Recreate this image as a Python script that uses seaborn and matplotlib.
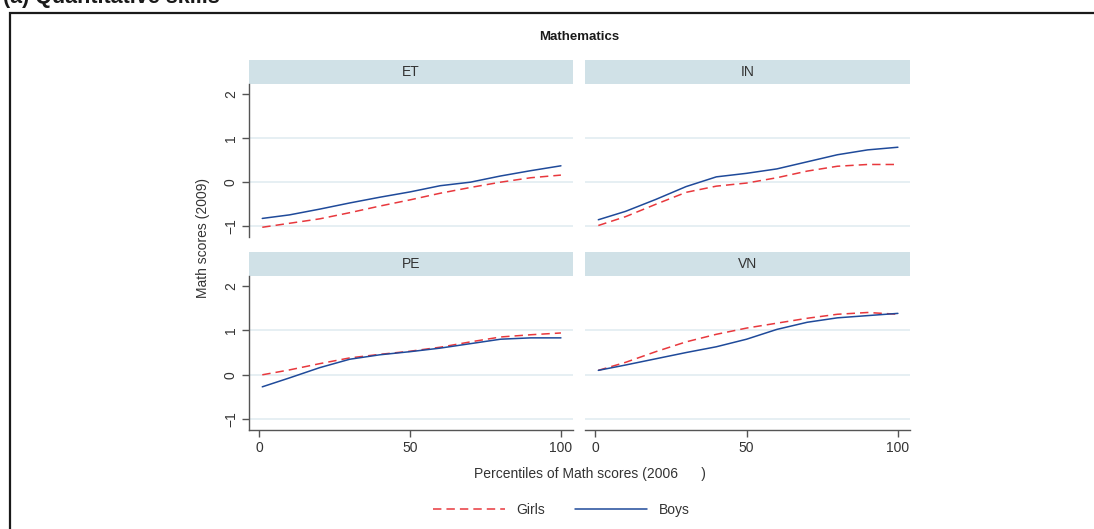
import numpy as np
import pandas as pd
import seaborn as sns
import matplotlib.pyplot as plt
from matplotlib.patches import Rectangle
from matplotlib.lines import Line2D

# Percentile grid of 2006 math scores
percentiles = [1, 10, 20, 30, 40, 50, 60, 70, 80, 90, 100]

countries = ["ET", "IN", "PE", "VN"]

# Smoothed 2009 math scores by percentile of the 2006 score
et_girls = [-1.02, -0.93, -0.83, -0.69, -0.54, -0.40, -0.25, -0.12, 0.00, 0.10, 0.16]
et_boys = [-0.82, -0.74, -0.61, -0.47, -0.34, -0.22, -0.08, 0.00, 0.14, 0.26, 0.37]
in_girls = [-0.98, -0.78, -0.50, -0.23, -0.09, -0.02, 0.10, 0.25, 0.36, 0.40, 0.40]
in_boys = [-0.85, -0.66, -0.39, -0.10, 0.12, 0.20, 0.30, 0.46, 0.62, 0.73, 0.79]
pe_girls = [0.00, 0.11, 0.25, 0.38, 0.46, 0.53, 0.62, 0.74, 0.85, 0.90, 0.94]
pe_boys = [-0.27, -0.07, 0.16, 0.35, 0.45, 0.52, 0.60, 0.70, 0.80, 0.83, 0.83]
vn_girls = [0.10, 0.28, 0.52, 0.74, 0.91, 1.05, 1.16, 1.27, 1.36, 1.40, 1.36]
vn_boys = [0.10, 0.22, 0.36, 0.50, 0.63, 0.80, 1.02, 1.18, 1.28, 1.33, 1.38]

series = {
    ("ET", "Girls"): et_girls, ("ET", "Boys"): et_boys,
    ("IN", "Girls"): in_girls, ("IN", "Boys"): in_boys,
    ("PE", "Girls"): pe_girls, ("PE", "Boys"): pe_boys,
    ("VN", "Girls"): vn_girls, ("VN", "Boys"): vn_boys,
}

rows = []
for (country, sex), vals in series.items():
    for p, v in zip(percentiles, vals):
        rows.append({"country": country, "sex": sex, "pct": p, "score": v})
df = pd.DataFrame(rows)

sns.set_style("white")
plt.rcParams["font.family"] = ["Liberation Sans Narrow", "Liberation Sans", "DejaVu Sans"]

RED = "#e8383d"
BLUE = "#1f4a9a"
STRIP = "#d0e1e7"
GRID = "#e4eef2"
AXIS = "#555555"
TEXT = "#333333"

palette = {"Girls": RED, "Boys": BLUE}
dash_map = {"Girls": (5.5, 3.3), "Boys": ""}

g = sns.FacetGrid(df, col="country", col_order=countries, col_wrap=2,
                  sharex=True, sharey=True, despine=False)
g.map_dataframe(sns.lineplot, x="pct", y="score", hue="sex", style="sex",
                hue_order=["Girls", "Boys"], style_order=["Girls", "Boys"],
                palette=palette, dashes=dash_map, linewidth=1.1,
                errorbar=None, estimator=None)
g.set_titles(col_template="")
g.set_axis_labels("", "")

fig = g.figure
fig.set_size_inches(10.94, 5.29)
fig.set_dpi(100)

W, H = 1094.0, 529.0
lefts = [249, 585, 249, 585]
rights = [573, 910, 573, 910]
tops = [84, 84, 276, 276]
bottoms = [237, 237, 430, 430]

for i, (ax, name) in enumerate(zip(g.axes.flat, countries)):
    l, r, t, b = lefts[i], rights[i], tops[i], bottoms[i]
    ax.set_position([l / W, 1 - b / H, (r - l) / W, (b - t) / H])
    ax.set_xlim(-3.4, 104)
    ax.set_ylim(-1.24, 2.22)
    ax.set_facecolor("white")
    ax.set_title("")
    ax.set_xlabel("")
    ax.set_ylabel("")
    leg = ax.get_legend()
    if leg is not None:
        leg.remove()
    for yv in (-1, 0, 1):
        ax.axhline(yv, color=GRID, lw=1.3, zorder=0)
    is_left = i % 2 == 0
    is_bottom = i >= 2
    for side in ("top", "right"):
        ax.spines[side].set_visible(False)
    ax.spines["left"].set_visible(is_left)
    ax.spines["bottom"].set_visible(is_bottom)
    for side in ("left", "bottom"):
        ax.spines[side].set_color(AXIS)
        ax.spines[side].set_linewidth(1.0)
    ax.set_yticks([-1, 0, 1, 2])
    ax.set_xticks([0, 50, 100])
    ax.tick_params(axis="y", left=is_left, labelleft=is_left, direction="out",
                   length=5, width=1.0, color=AXIS, labelcolor=TEXT,
                   labelsize=10, labelrotation=90, pad=3)
    ax.tick_params(axis="x", bottom=is_bottom, labelbottom=is_bottom,
                   direction="out", length=5, width=1.0, color=AXIS,
                   labelcolor=TEXT, labelsize=10, pad=3)
    for lab in ax.get_yticklabels():
        lab.set_verticalalignment("center")
    strip_h = 24.0 / (b - t)
    ax.add_patch(Rectangle((0, 1), 1, strip_h, transform=ax.transAxes,
                           facecolor=STRIP, edgecolor="none", clip_on=False))
    ax.text(0.5, 1 + strip_h / 2, name, transform=ax.transAxes,
            ha="center", va="center", fontsize=10, color=TEXT)

# Outer frame of the panel group
fig.add_artist(Rectangle((10 / W, -0.1), 1.2, 1.1 - 13 / H,
                         transform=fig.transFigure, facecolor="none",
                         edgecolor="#1a1a1a", lw=1.6, clip_on=False))

fig.text(3 / W, 1 - 3.0 / H, "(a) Quantitative skills", ha="left",
         va="baseline", fontsize=15.5, fontweight="bold",
         family=["Liberation Sans", "DejaVu Sans"], color="#1a1a1a")

fig.text(579 / W, 1 - 37 / H, "Mathematics", ha="center", va="center",
         fontsize=9.5, fontweight="bold", color="#1a1a1a")
fig.text(203 / W, 1 - 238 / H, "Math scores (2009)", ha="center", va="center",
         rotation=90, fontsize=10, color=TEXT)
fig.text(590 / W, 1 - 474 / H, "Percentiles of Math scores (2006      )",
         ha="center", va="center", fontsize=10, color=TEXT)

handles = [Line2D([], [], color=RED, lw=1.1, dashes=(5.5, 3.3)),
           Line2D([], [], color=BLUE, lw=1.1)]
fig.legend(handles, ["Girls", "Boys"], loc="center", ncol=2,
           bbox_to_anchor=(561 / W, 1 - 510 / H), frameon=False,
           handlelength=5.2, handletextpad=0.8, columnspacing=2.2,
           fontsize=10, labelcolor=TEXT)

fig.savefig("out.png", dpi=100, facecolor="white")
